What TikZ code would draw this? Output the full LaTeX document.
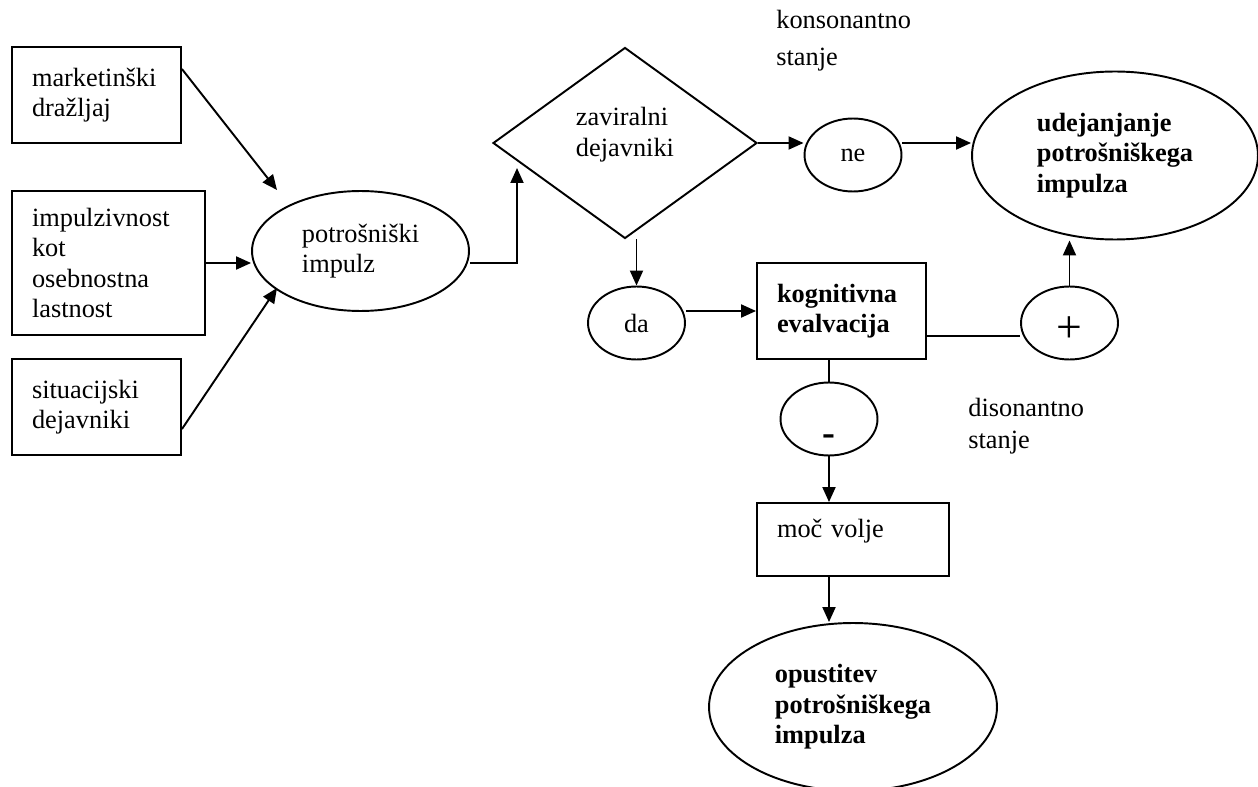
\documentclass[tikz,border=0pt]{standalone}
\usepackage{fontspec}
\setmainfont{Liberation Serif}
\usetikzlibrary{shapes.geometric,arrows.meta,calc}
\tikzstyle{navadno}=[font=\fontsize{15}{17.3}\selectfont]
\tikzstyle{debelo}=[font=\fontsize{15}{17.3}\selectfont\bfseries]
\tikzstyle{blok}=[draw,line width=1.1pt,align=left,inner xsep=0.4cm,inner ysep=0pt]
\tikzstyle{oval}=[ellipse,draw,line width=1.1pt,align=left,inner sep=0pt]
\tikzstyle{malioval}=[oval,minimum width=1.94cm,minimum height=1.46cm]
\tikzstyle{opomba}=[align=left,anchor=west,inner sep=0pt]
\tikzstyle{edge}=[draw,line width=1.1pt]
\tikzstyle{arr}=[edge,-{Triangle[length=0.3cm,width=0.26cm]}]

\begin{document}
\begin{tikzpicture}[x=0.02cm,y=-0.02cm,navadno]
\useasboundingbox (0,0) rectangle (1258,787);
% vhodni dejavniki
\node[blok,text width=2.58cm,minimum height=1.92cm] (drazljaj) at (96.5,95) {marketinški\\dražljaj};
\node[blok,text width=3.06cm,minimum height=2.88cm] (osebnost) at (108.5,263) {impulzivnost\\kot\\osebnostna\\lastnost};
\node[blok,text width=2.58cm,minimum height=1.92cm] (situacija) at (96.5,407) {situacijski\\dejavniki};
\node[oval,minimum width=4.34cm,minimum height=2.4cm] (impulz) at (360.5,251) {potrošniški\\impulz};
\coordinate (impulz-a) at (277,190);
\coordinate (impulz-b) at (277,288);
% odlocitev
\node[diamond,draw,line width=1.1pt,inner sep=0pt,minimum width=5.28cm,minimum height=3.82cm] (zaviralni) at (625,143)
  {\raisebox{1pt}[0pt][0pt]{\begin{tabular}{@{}l@{}}zaviralni\\dejavniki\end{tabular}}};
\coordinate (zaviralni-a) at (517,168);
\node[malioval] (ne) at (853,155) {ne};
\node[malioval] (da) at (636.5,323) {da};
\node[oval,debelo,minimum width=5.72cm,minimum height=3.36cm] (udejanjanje) at (1115,155.5) {udejanjanje\\potrošniškega\\impulza};
\node[blok,debelo,text width=2.58cm,minimum height=1.92cm] (kognitivna) at (841.5,311) {kognitivna\\evalvacija};
\node[malioval,font=\fontsize{26}{30}\selectfont] (plus) at (1069.5,323) {\raisebox{-11pt}[0pt][0pt]{+}};
\node[malioval,font=\fontsize{22}{26}\selectfont\bfseries] (minus) at (829,419) {\raisebox{-15pt}[0pt][0pt]{-}};
\node[blok,text width=3.04cm,minimum height=1.46cm] (moc) at (853,539.5) {\raisebox{1pt}[0pt][0pt]{moč volje}};
\node[oval,debelo,minimum width=5.76cm,minimum height=3.36cm] (opustitev) at (853,707) {opustitev\\potrošniškega\\impulza};
\coordinate (kog-plus) at ($(kognitivna.south east)+(0,-24)$);
% opombe
\node[opomba,font=\fontsize{15}{21}\selectfont] (konsonantno) at (776,40.5) {konsonantno\\stanje};
\node[opomba,font=\fontsize{15}{18.1}\selectfont] (disonantno) at (968,426) {disonantno\\stanje};
% povezave
\draw[arr] ($(drazljaj.north east)+(0,23)$) -- (impulz-a);
\draw[arr] (osebnost.east) -- (osebnost.east -| impulz.west);
\draw[arr] ($(situacija.north east)+(0,71)$) -- (impulz-b);
\draw[arr] (impulz.east |- osebnost.east) -| (zaviralni-a);
\draw[arr] (zaviralni.east) -- (zaviralni.east -| ne.west);
\draw[arr] (zaviralni.east -| ne.east) -- (zaviralni.east -| udejanjanje.west);
\draw[arr] (zaviralni.south -| da.north) -- (da.north);
\draw[arr] (kognitivna.west -| da.east) -- (kognitivna.west);
\draw[edge] (kog-plus) -- (kog-plus -| plus.west);
\draw[arr] (plus.north) -- (plus.north |- udejanjanje.south);
\draw[edge] (minus.north |- kognitivna.south) -- (minus.north);
\draw[arr] (minus.south) -- (minus.south |- moc.north);
\draw[arr] (moc.south -| minus.south) -- (opustitev.north -| minus.south);
\end{tikzpicture}
\end{document}
